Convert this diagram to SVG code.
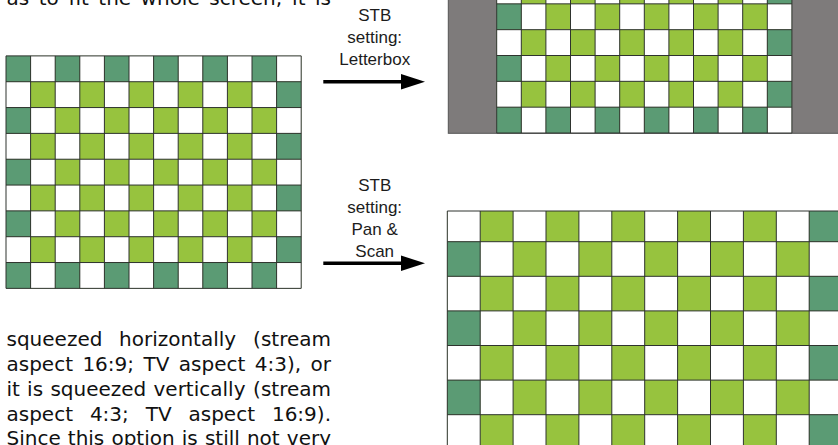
<svg xmlns="http://www.w3.org/2000/svg" width="838" height="445" viewBox="0 0 838 445">
<style>
.body{font-family:"DejaVu Sans","Verdana",sans-serif;font-size:20px;fill:#111}
.lbl{font-family:"Liberation Sans",Arial,sans-serif;font-size:17px;fill:#1c1c1c;text-anchor:middle}
.end{text-anchor:end}
.dk{fill:#5b9b74}
.gl{fill:none;stroke:#2e332e;stroke-width:1}
.arrow{stroke:#000;stroke-width:3.5;fill:none}
.head{fill:#000}
</style>
<defs>
<pattern id="pL" patternUnits="userSpaceOnUse" x="6" y="55.9" width="49.2" height="51.66"><rect width="24.6" height="25.83" fill="#97c33e"/><rect x="24.6" y="25.83" width="24.6" height="25.83" fill="#97c33e"/></pattern>
<pattern id="pB" patternUnits="userSpaceOnUse" x="496.7" y="-99.47" width="49.2" height="51.66"><rect width="24.6" height="25.83" fill="#97c33e"/><rect x="24.6" y="25.83" width="24.6" height="25.83" fill="#97c33e"/></pattern>
<pattern id="pP" patternUnits="userSpaceOnUse" x="447.3" y="172.5" width="65.8" height="69.2"><rect width="32.9" height="34.6" fill="#97c33e"/><rect x="32.9" y="34.6" width="32.9" height="34.6" fill="#97c33e"/></pattern>
</defs>
<rect width="838" height="445" fill="#fff"/>

<g id="body-text" class="body">
<text y="5"><tspan x="6.5">as</tspan><tspan x="38.7">to</tspan><tspan x="68.4">fit</tspan><tspan x="98.3">the</tspan><tspan x="140.6">whole</tspan><tspan x="209.3">screen,</tspan><tspan x="292.1">it</tspan></text>
<text y="5" x="331" class="end">is</text>
<text y="345.5"><tspan x="6.5">squeezed</tspan><tspan x="119">horizontally</tspan></text>
<text y="345.5" x="331" class="end">(stream</text>
<text y="370.8"><tspan x="6.5">aspect</tspan><tspan x="82.4">16:9;</tspan><tspan x="143.5">TV</tspan><tspan x="178.8">aspect</tspan><tspan x="254.8">4:3),</tspan></text>
<text y="370.8" x="331" class="end">or</text>
<text y="396.1"><tspan x="6.5">it</tspan><tspan x="27.1">is</tspan><tspan x="50.4">squeezed</tspan><tspan x="153.5">vertically</tspan></text>
<text y="396.1" x="331" class="end">(stream</text>
<text y="421.4"><tspan x="6.5">aspect</tspan><tspan x="89.9">4:3;</tspan><tspan x="145.7">TV</tspan><tspan x="188.5">aspect</tspan></text>
<text y="421.4" x="331" class="end">16:9).</text>
<text y="445"><tspan x="6.5">Since</tspan><tspan x="67.8">this</tspan><tspan x="111.4">option</tspan><tspan x="181.8">is</tspan><tspan x="204.9">still</tspan><tspan x="246.9">not</tspan></text>
<text y="445" x="331" class="end">very</text>
</g>

<g id="source-grid">
<rect x="6" y="55.9" width="295.2" height="232.47" fill="#fff"/>
<rect x="6" y="55.9" width="295.2" height="232.47" fill="url(#pL)"/>
<g class="dk">
<rect x="6" y="55.9" width="24.6" height="25.83"/><rect x="55.2" y="55.9" width="24.6" height="25.83"/><rect x="104.4" y="55.9" width="24.6" height="25.83"/><rect x="153.6" y="55.9" width="24.6" height="25.83"/><rect x="202.8" y="55.9" width="24.6" height="25.83"/><rect x="252" y="55.9" width="24.6" height="25.83"/>
<rect x="6" y="262.54" width="24.6" height="25.83"/><rect x="55.2" y="262.54" width="24.6" height="25.83"/><rect x="104.4" y="262.54" width="24.6" height="25.83"/><rect x="153.6" y="262.54" width="24.6" height="25.83"/><rect x="202.8" y="262.54" width="24.6" height="25.83"/><rect x="252" y="262.54" width="24.6" height="25.83"/>
<rect x="6" y="107.56" width="24.6" height="25.83"/><rect x="6" y="159.22" width="24.6" height="25.83"/><rect x="6" y="210.88" width="24.6" height="25.83"/>
<rect x="276.6" y="81.73" width="24.6" height="25.83"/><rect x="276.6" y="133.39" width="24.6" height="25.83"/><rect x="276.6" y="185.05" width="24.6" height="25.83"/><rect x="276.6" y="236.71" width="24.6" height="25.83"/>
</g>
<path class="gl" d="M6 55.9V288.37M30.6 55.9V288.37M55.2 55.9V288.37M79.8 55.9V288.37M104.4 55.9V288.37M129 55.9V288.37M153.6 55.9V288.37M178.2 55.9V288.37M202.8 55.9V288.37M227.4 55.9V288.37M252 55.9V288.37M276.6 55.9V288.37M301.2 55.9V288.37M6 55.9H301.2M6 81.73H301.2M6 107.56H301.2M6 133.39H301.2M6 159.22H301.2M6 185.05H301.2M6 210.88H301.2M6 236.71H301.2M6 262.54H301.2M6 288.37H301.2"/>
</g>

<g id="letterbox-output">
<rect x="448.3" y="-5" width="400" height="138.3" fill="#7e7b7b" stroke="#555" stroke-width="1"/>
<rect x="496.7" y="-22" width="295.2" height="155" fill="#fff"/>
<rect x="496.7" y="-22" width="295.2" height="155" fill="url(#pB)"/>
<g class="dk">
<rect x="496.7" y="107.17" width="24.6" height="25.83"/><rect x="545.9" y="107.17" width="24.6" height="25.83"/><rect x="595.1" y="107.17" width="24.6" height="25.83"/><rect x="644.3" y="107.17" width="24.6" height="25.83"/><rect x="693.5" y="107.17" width="24.6" height="25.83"/><rect x="742.7" y="107.17" width="24.6" height="25.83"/>
<rect x="496.7" y="3.85" width="24.6" height="25.83"/><rect x="496.7" y="55.51" width="24.6" height="25.83"/>
<rect x="767.3" y="-21.98" width="24.6" height="25.83"/><rect x="767.3" y="29.68" width="24.6" height="25.83"/><rect x="767.3" y="81.34" width="24.6" height="25.83"/>
</g>
<path class="gl" d="M496.7 -22V133M521.3 -22V133M545.9 -22V133M570.5 -22V133M595.1 -22V133M619.7 -22V133M644.3 -22V133M668.9 -22V133M693.5 -22V133M718.1 -22V133M742.7 -22V133M767.3 -22V133M791.9 -22V133M496.7 3.85H791.9M496.7 29.68H791.9M496.7 55.51H791.9M496.7 81.34H791.9M496.7 107.17H791.9M496.7 133H791.9"/>
</g>

<g id="panscan-output">
<rect x="447.3" y="211" width="400" height="240" fill="#fff"/>
<rect x="447.3" y="211" width="400" height="240" fill="url(#pP)"/>
<g class="dk">
<rect x="809.2" y="211" width="32.9" height="30.7"/><rect x="809.2" y="276.3" width="32.9" height="34.6"/><rect x="809.2" y="345.5" width="32.9" height="34.6"/><rect x="809.2" y="414.7" width="32.9" height="34.6"/>
<rect x="447.3" y="241.7" width="32.9" height="34.6"/><rect x="447.3" y="310.9" width="32.9" height="34.6"/><rect x="447.3" y="380.1" width="32.9" height="34.6"/>
</g>
<path class="gl" d="M447.3 211V450M480.2 211V450M513.1 211V450M546 211V450M578.9 211V450M611.8 211V450M644.7 211V450M677.6 211V450M710.5 211V450M743.4 211V450M776.3 211V450M809.2 211V450M447.3 211H845M447.3 241.7H845M447.3 276.3H845M447.3 310.9H845M447.3 345.5H845M447.3 380.1H845M447.3 414.7H845"/>
</g>

<g id="label-letterbox" class="lbl">
<text x="374.7" y="20.7">STB</text>
<text x="374.7" y="43">setting:</text>
<text x="374.7" y="65">Letterbox</text>
</g>
<g id="label-panscan" class="lbl">
<text x="374.7" y="190.7">STB</text>
<text x="374.7" y="213">setting:</text>
<text x="374.7" y="235">Pan &amp;</text>
<text x="374.7" y="257.3">Scan</text>
</g>

<g id="connectors">
<path class="arrow" d="M323.3 81.7H403"/>
<polygon class="head" points="401,74 425,81.7 401,89.4"/>
<path class="arrow" d="M323.3 263.3H403"/>
<polygon class="head" points="401,255.6 425,263.3 401,271"/>
</g>
</svg>
